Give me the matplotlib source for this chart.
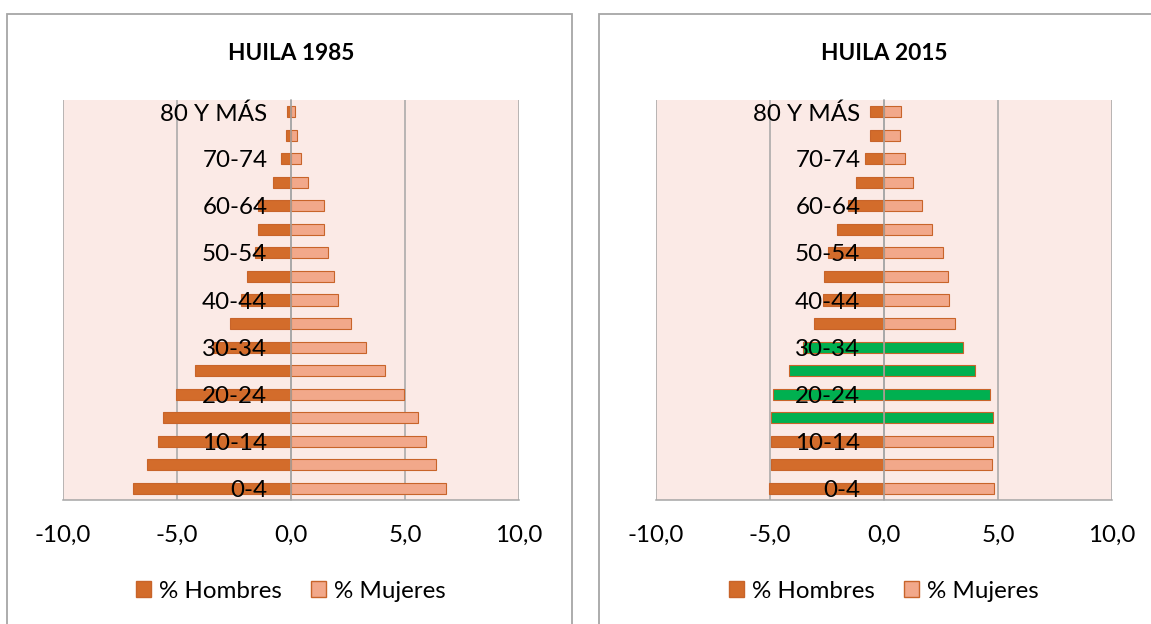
import matplotlib
matplotlib.use("Agg")
import matplotlib.pyplot as plt
from matplotlib.patches import Rectangle, Patch

plt.rcParams['font.family'] = ['Lato', 'DejaVu Sans']

grupos = ['0-4', '5-9', '10-14', '15-19', '20-24', '25-29', '30-34', '35-39',
          '40-44', '45-49', '50-54', '55-59', '60-64', '65-69', '70-74',
          '75-79', '80 Y MÁS']

hombres_1985 = [-6.95, -6.30, -5.83, -5.63, -5.06, -4.19, -3.40, -2.69, -2.20,
                -1.92, -1.60, -1.46, -1.45, -0.81, -0.45, -0.24, -0.19]
mujeres_1985 = [6.82, 6.35, 5.91, 5.58, 4.97, 4.12, 3.31, 2.61, 2.08,
                1.88, 1.64, 1.44, 1.44, 0.76, 0.45, 0.26, 0.19]

hombres_2015 = [-5.05, -4.97, -4.94, -4.97, -4.87, -4.15, -3.55, -3.06, -2.68,
                -2.65, -2.45, -2.04, -1.58, -1.21, -0.83, -0.60, -0.60]
mujeres_2015 = [4.83, 4.73, 4.76, 4.76, 4.67, 4.01, 3.48, 3.10, 2.84,
                2.79, 2.59, 2.12, 1.66, 1.25, 0.91, 0.69, 0.75]
destacados_2015 = ['15-19', '20-24', '25-29', '30-34']

x_ticks = [-10, -5, 0, 5, 10]
x_labels = ['-10,0', '-5,0', '0,0', '5,0', '10,0']

C_HOM = '#D36C2B'
C_MUJ = '#F2A88A'
C_EDGE = '#C8642A'
C_VERDE = '#00B050'
C_FONDO = '#FBEAE6'
C_GRIS = '#A6A6A6'

W, H = 1151, 624
fig = plt.figure(figsize=(W / 100, H / 100), dpi=100)


def piramide(ax, hombres, mujeres, title, destacados=()):
    ax.set_facecolor(C_FONDO)
    # el eje vertical cruza en 0 (hay que moverlo antes de poner etiquetas)
    ax.spines['left'].set_position(('data', 0))
    ax.spines['left'].set_color(C_GRIS)
    ax.spines['left'].set_linewidth(1.1)
    ax.spines['left'].set_zorder(3)
    ax.spines['top'].set_visible(False)
    ax.spines['right'].set_visible(False)
    ax.spines['bottom'].set_color(C_GRIS)
    ax.spines['bottom'].set_linewidth(1.1)

    y = list(range(len(grupos)))
    c_h = [C_VERDE if g in destacados else C_HOM for g in grupos]
    c_m = [C_VERDE if g in destacados else C_MUJ for g in grupos]
    ax.barh(y, hombres, height=0.47, color=c_h, edgecolor=C_EDGE,
            linewidth=0.8, zorder=2)
    ax.barh(y, mujeres, height=0.47, color=c_m, edgecolor=C_EDGE,
            linewidth=0.8, zorder=2)

    ax.set_xlim(-10, 10)
    ax.set_ylim(-0.5, len(grupos) - 0.5)
    ax.set_axisbelow(True)
    ax.xaxis.grid(True, color=C_GRIS, linewidth=1.1)
    ax.set_xticks(x_ticks)
    ax.set_xticklabels(x_labels, fontsize=17.4)
    ax.tick_params(axis='x', length=0, pad=18)

    ax.set_yticks(y[::2])
    ax.set_yticklabels(grupos[::2], fontsize=17.4)
    ax.tick_params(axis='y', length=0, pad=17)
    ax.yaxis.set_zorder(4)

    ax.set_title(title, fontsize=16.3, fontweight='bold', pad=29)

    handles = [Patch(facecolor=C_HOM, edgecolor=C_EDGE, label='% Hombres'),
               Patch(facecolor=C_MUJ, edgecolor=C_EDGE, label='% Mujeres')]
    ax.legend(handles=handles, loc='center', bbox_to_anchor=(0.5, -0.228),
              ncol=2, frameon=False, fontsize=17.4, handlelength=0.62,
              handleheight=0.62, handletextpad=0.33, columnspacing=1.2)


ax1 = fig.add_axes([63 / W, 1 - 500 / H, 456 / W, 400 / H])
ax2 = fig.add_axes([656 / W, 1 - 500 / H, 456 / W, 400 / H])

piramide(ax1, hombres_1985, mujeres_1985, 'HUILA 1985')
piramide(ax2, hombres_2015, mujeres_2015, 'HUILA 2015', destacados_2015)

# marcos de cada grafico
fig.add_artist(Rectangle((7 / W, -0.05), 565 / W, 1.05 - 13.5 / H,
                         transform=fig.transFigure, fill=False,
                         edgecolor=C_GRIS, linewidth=1.3))
fig.add_artist(Rectangle((599 / W, -0.05), 0.6, 1.05 - 13.5 / H,
                         transform=fig.transFigure, fill=False,
                         edgecolor=C_GRIS, linewidth=1.3))

fig.savefig('out.png', dpi=100)
